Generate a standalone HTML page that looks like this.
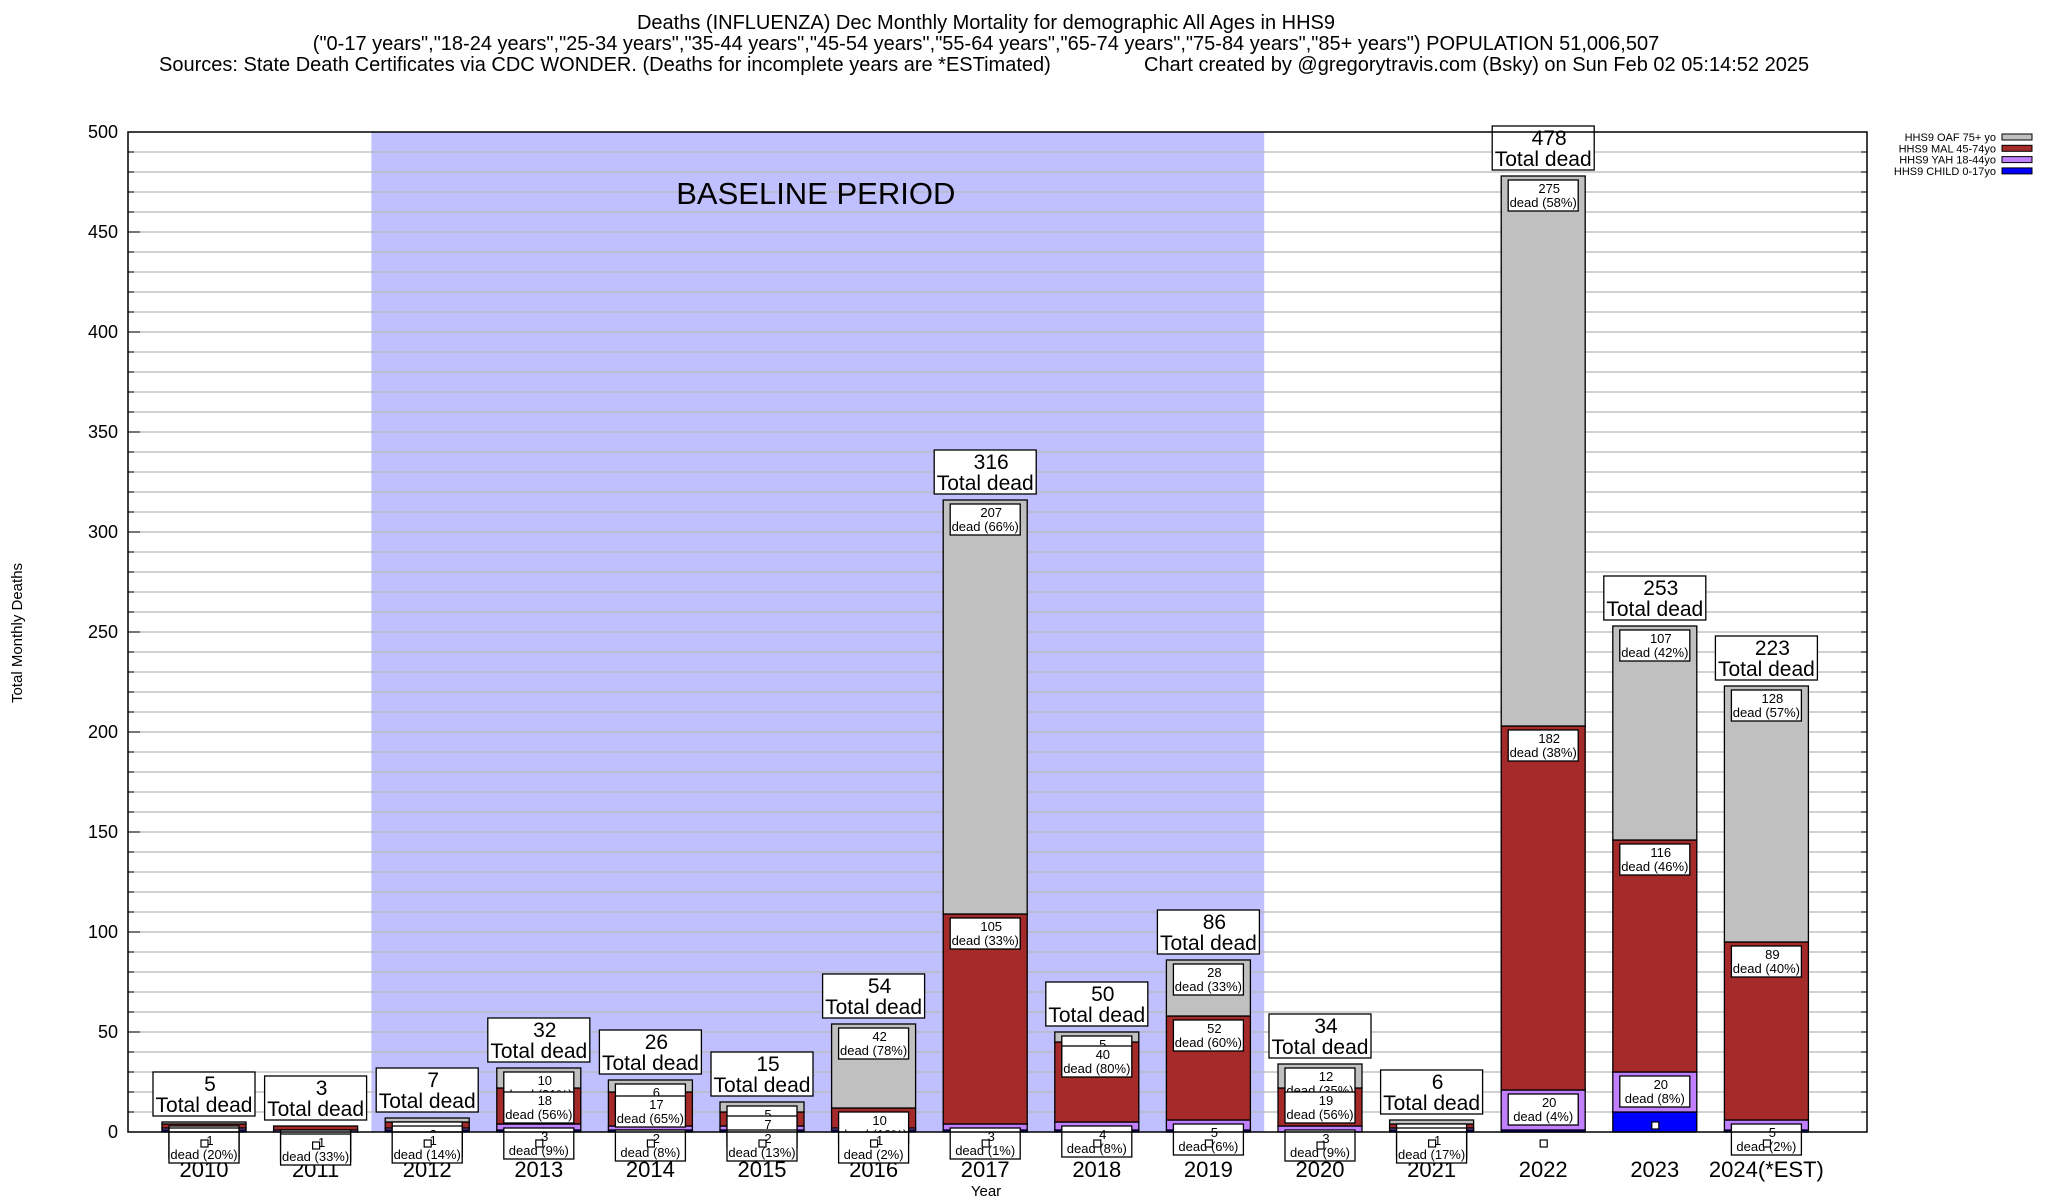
<!DOCTYPE html>
<html><head><meta charset="utf-8">
<style>
html,body{margin:0;padding:0;background:#fff;}
svg{display:block;font-family:"Liberation Sans",Arial,sans-serif;}
</style></head>
<body>
<svg id="chart" width="2048" height="1200" viewBox="0 0 2048 1200" xmlns="http://www.w3.org/2000/svg">
<g font-size="20" text-anchor="middle" fill="#000">
<text x="986" y="29">Deaths (INFLUENZA) Dec Monthly Mortality for demographic All Ages in HHS9</text>
<text x="986" y="50">("0-17 years","18-24 years","25-34 years","35-44 years","45-54 years","55-64 years","65-74 years","75-84 years","85+ years") POPULATION 51,006,507</text>
<text x="159" y="71" text-anchor="start">Sources: State Death Certificates via CDC WONDER. (Deaths for incomplete years are *ESTimated)</text>
<text x="1144" y="71" text-anchor="start">Chart created by @gregorytravis.com (Bsky) on Sun Feb 02 05:14:52 2025</text>
</g>
<g id="plot"></g>
</svg>
<script>
const years = ["2010","2011","2012","2013","2014","2015","2016","2017","2018","2019","2020","2021","2022","2023","2024(*EST)"];
const child = [1,0,1,1,1,1,1,1,1,1,0,1,1,10,1];
const yah   = [1,1,1,3,2,2,1,3,4,5,3,1,20,20,5];
const mal   = [2,2,3,18,17,7,10,105,40,52,19,2,182,116,89];
const oaf   = [1,0,2,10,6,5,42,207,5,28,12,2,275,107,128];
const totals = [5,3,7,32,26,15,54,316,50,86,34,6,478,253,223];
const yTicks = [0,50,100,150,200,250,300,350,400,450,500];
const legendLabels = ["HHS9 OAF 75+ yo","HHS9 MAL 45-74yo","HHS9 YAH 18-44yo","HHS9 CHILD 0-17yo"];
const baselineStart = 1.5, baselineEnd = 9.5;

const NS="http://www.w3.org/2000/svg";
const L=128,R=1867,T=132,B=1132;
const yScale=v=>B-(v/500)*(B-T);
const xScale=i=>204+i*111.6;
const barW=84;
const plot=document.getElementById('plot');
function mk(tag,attrs,parent,text){const e=document.createElementNS(NS,tag);for(const k in attrs)e.setAttribute(k,attrs[k]);if(text!==undefined)e.textContent=text;(parent||plot).appendChild(e);return e;}

const bl=mk('rect',{x:xScale(baselineStart),y:T,width:xScale(baselineEnd)-xScale(baselineStart),height:B-T,fill:'#c0c0ff'});


for(let v=10;v<500;v+=10){
  const g=mk('line',{x1:L,x2:R,y1:yScale(v),y2:yScale(v),stroke:'#b8b8b8','stroke-width':1.3});
  
  
  mk('line',{x1:L,x2:L+6,y1:yScale(v),y2:yScale(v),stroke:'#000'});
  mk('line',{x1:R,x2:R-6,y1:yScale(v),y2:yScale(v),stroke:'#000'});
}
yTicks.forEach(v=>{
  const t=mk('text',{x:L-10,y:yScale(v)+6,'font-size':18,'text-anchor':'end'},plot,String(v));
  
  
  mk('line',{x1:L,x2:L+12,y1:yScale(v),y2:yScale(v),stroke:'#000'});
});
const bt=mk('text',{x:(xScale(baselineStart)+xScale(baselineEnd))/2-2,y:204,'font-size':31,'text-anchor':'middle'},plot,'BASELINE PERIOD');



years.forEach((yr,i)=>{
  const xl=mk('text',{x:xScale(i),y:1177,'font-size':22,'text-anchor':'middle'},plot,yr);
  
  
});

const colors={child:'#0000ff',yah:'#c080ff',mal:'#a52a2a',oaf:'#c0c0c0'};
function labelBox(cx,top,num,pct,name){
  const g=mk('g',{});
  
  
  mk('rect',{x:cx-35,y:top,width:70,height:31,fill:'#fff',stroke:'#000','stroke-width':1.3},g);
  mk('text',{x:cx+6,y:top+13,'font-size':13,'text-anchor':'middle'},g,String(num));
  mk('text',{x:cx,y:top+27,'font-size':13,'text-anchor':'middle'},g,'dead ('+pct+'%)');
}
years.forEach((yr,i)=>{
  const cx=xScale(i);
  const segs=[['child',child[i]],['yah',yah[i]],['mal',mal[i]],['oaf',oaf[i]]];
  let acc=0;
  const tops={};
  segs.forEach(([k,v])=>{
    const y0=yScale(acc),y1=yScale(acc+v);
    const r=mk('rect',{x:cx-barW/2,y:y1,width:barW,height:Math.max(0,y0-y1),fill:colors[k],stroke:'#000','stroke-width':1.3});
    
    
    acc+=v;tops[k]=y1;
  });
  const tot=totals[i];
  labelBox(cx,tops.oaf+4,oaf[i],Math.round(oaf[i]/tot*100),'label-oaf-'+yr);
  labelBox(cx,tops.mal+4,mal[i],Math.round(mal[i]/tot*100),'label-mal-'+yr);
  labelBox(cx,tops.yah+4,yah[i],Math.round(yah[i]/tot*100),'label-yah-'+yr);
  const sq=mk('rect',{x:cx-3,y:yScale(child[i])+10,width:7,height:7,fill:'#fff',stroke:'#000','stroke-width':1.2});
  
  
  const g=mk('g',{});
  
  
  const ty=yScale(tot)-6-44;
  mk('rect',{x:cx-51,y:ty,width:102,height:44,fill:'#fff',stroke:'#000','stroke-width':1.3},g);
  mk('text',{x:cx+6,y:ty+19,'font-size':21,'text-anchor':'middle'},g,String(tot));
  mk('text',{x:cx,y:ty+40,'font-size':21,'text-anchor':'middle'},g,'Total dead');
});
const fr=mk('rect',{x:L,y:T,width:R-L,height:B-T,fill:'none',stroke:'#000','stroke-width':1.5});


const yt=mk('text',{x:22,y:633,'font-size':15,'text-anchor':'middle',transform:'rotate(-90 22 633)'},plot,'Total Monthly Deaths');


const xt=mk('text',{x:986,y:1196,'font-size':15,'text-anchor':'middle'},plot,'Year');


const legColors=[colors.oaf,colors.mal,colors.yah,colors.child];
legendLabels.forEach((lab,j)=>{
  const g=mk('g',{});
  
  
  const y=141+j*11.3;
  mk('text',{x:1996,y:y,'font-size':11,'text-anchor':'end'},g,lab);
  mk('rect',{x:2002,y:y-7,width:30,height:6,fill:legColors[j],stroke:'#000','stroke-width':1},g);
});
</script>
</body></html>
